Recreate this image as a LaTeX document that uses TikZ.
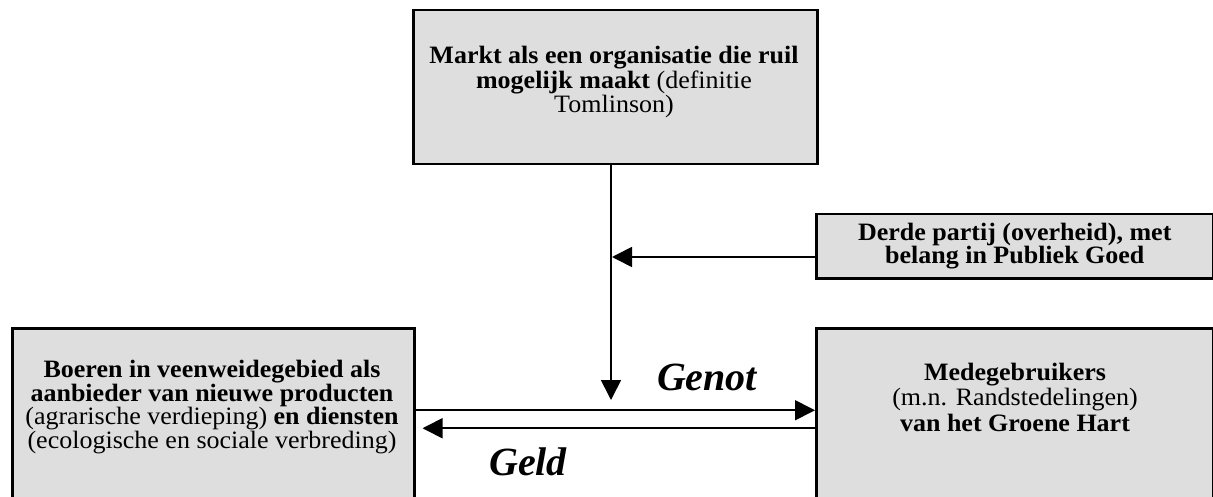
\documentclass[tikz,border=0pt]{standalone}
\usepackage{fontspec}
\setmainfont{Liberation Serif}[FakeStretch=1.04]
\newfontfamily\flowfont{Liberation Serif}
\usetikzlibrary{arrows.meta,positioning}
\definecolor{boxgrey}{RGB}{222,222,222}

\begin{document}
\begin{tikzpicture}[x=1pt,y=-1pt,
  every node/.append style={align=center,inner sep=0pt,font=\fontsize{25}{23.5}\selectfont},
  box/.style={draw,line width=2.5pt,fill=boxgrey,anchor=north west},
  flow/.style={line width=1.7pt,-{Triangle[length=20pt,width=20pt]}},
  flowlbl/.style={font=\flowfont\bfseries\itshape\fontsize{40}{40}\selectfont}]
\useasboundingbox (0,0) rectangle (1213,497);
% boxes
\node[box,minimum width=404pt,minimum height=154pt] (markt) at (412,9) {};
\node[box,minimum width=397pt,minimum height=64pt] (derde) at (815,213)
  {\textbf{Derde partij (overheid), met}\\\textbf{belang in Publiek Goed}};
\node[box,minimum width=402pt,minimum height=200pt] (boeren) at (11,327) {};
\node[box,minimum width=397pt,minimum height=200pt] (mede) at (815,327) {};
\node[font=\fontsize{25}{24.5}\selectfont] (markttxt) at (614,82) {\textbf{Markt als een organisatie die ruil}\\\textbf{mogelijk maakt} (definitie\\Tomlinson)};
\node (boerentxt) at (212,407) {\textbf{Boeren in veenweidegebied als}\\\textbf{aanbieder van nieuwe producten}\\(agrarische verdieping) \textbf{en diensten}\\(ecologische en sociale verbreding)};
\node[font=\fontsize{25}{25.5}\selectfont] (medetxt) at (1015,397) {\textbf{Medegebruikers}\\(m.n. Randstedelingen)\\\textbf{van het Groene Hart}};
% flows
\node[flowlbl] (genot) at (707,377) {Genot};
\node[flowlbl] (geld) at (528,462) {Geld};
\coordinate (drop) at (611,400);
\coordinate (hit) at (612,257);
\draw[flow] (markt.south -| drop) -- (drop);
\draw[flow] (derde.west |- hit) -- (hit);
\draw[flow] ([yshift=18pt]boeren.east) -- ([yshift=18pt]mede.west);
\draw[flow,shorten >=7pt] (mede.west) -- (boeren.east);
\end{tikzpicture}
\end{document}
